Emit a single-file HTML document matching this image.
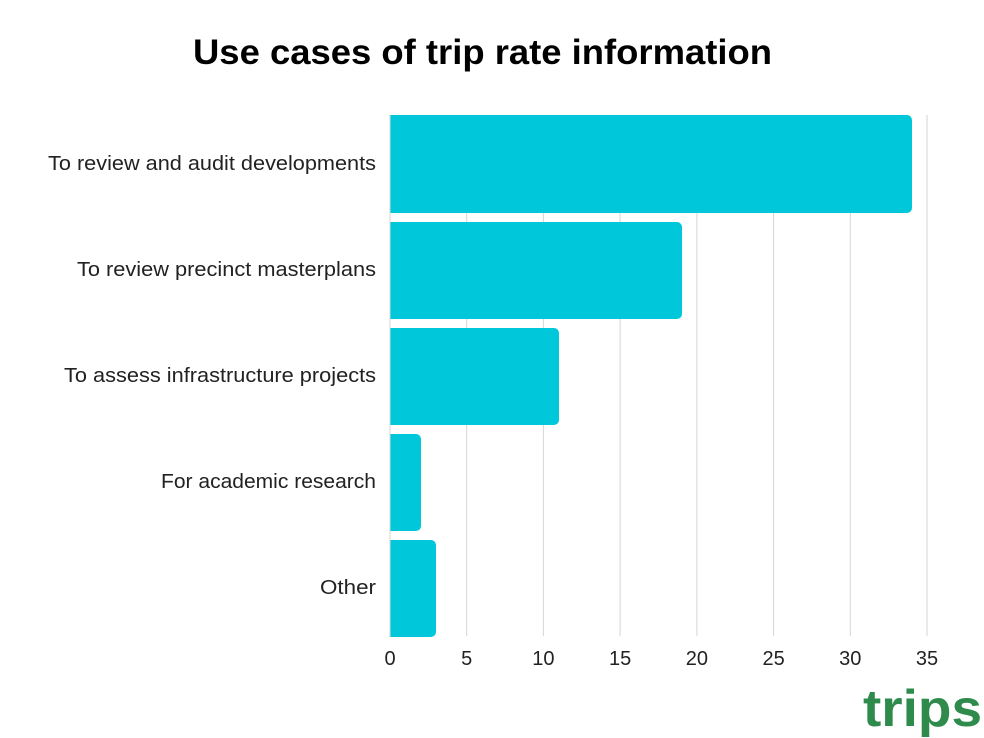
<!DOCTYPE html>
<html><head><style>
html,body{margin:0;padding:0;background:#fff;}
svg{display:block;}
text{font-family:"Liberation Sans",sans-serif;}
</style></head><body>
<svg width="984" height="738" xmlns="http://www.w3.org/2000/svg">
<rect width="984" height="738" fill="#fff"/>
<text x="193" y="64" font-size="35" font-weight="bold" fill="#000" textLength="579" lengthAdjust="spacingAndGlyphs">Use cases of trip rate information</text>
<g stroke="#d6d6d6" stroke-width="1">
<line x1="466.7" y1="115" x2="466.7" y2="636"/>
<line x1="543.4" y1="115" x2="543.4" y2="636"/>
<line x1="620.1" y1="115" x2="620.1" y2="636"/>
<line x1="696.9" y1="115" x2="696.9" y2="636"/>
<line x1="773.6" y1="115" x2="773.6" y2="636"/>
<line x1="850.3" y1="115" x2="850.3" y2="636"/>
<line x1="927" y1="115" x2="927" y2="636"/>
</g>
<g fill="#00C8DA">
<path d="M390 115 H907 a5 5 0 0 1 5 5 V208 a5 5 0 0 1 -5 5 H390Z"/>
<path d="M390 222 H677 a5 5 0 0 1 5 5 V314 a5 5 0 0 1 -5 5 H390Z"/>
<path d="M390 328 H554 a5 5 0 0 1 5 5 V420 a5 5 0 0 1 -5 5 H390Z"/>
<path d="M390 434 H416 a5 5 0 0 1 5 5 V526 a5 5 0 0 1 -5 5 H390Z"/>
<path d="M390 540 H431 a5 5 0 0 1 5 5 V632 a5 5 0 0 1 -5 5 H390Z"/>
</g>
<line x1="390" y1="115" x2="390" y2="637" stroke="#d6d6d6"/>
<g font-size="20" fill="#222" lengthAdjust="spacingAndGlyphs">
<text x="48" y="170" textLength="328" lengthAdjust="spacingAndGlyphs">To review and audit developments</text>
<text x="77" y="276" textLength="299" lengthAdjust="spacingAndGlyphs">To review precinct masterplans</text>
<text x="64" y="382" textLength="312" lengthAdjust="spacingAndGlyphs">To assess infrastructure projects</text>
<text x="161" y="488" textLength="215" lengthAdjust="spacingAndGlyphs">For academic research</text>
<text x="320" y="594" textLength="56" lengthAdjust="spacingAndGlyphs">Other</text>
</g>
<g font-size="20" fill="#222" text-anchor="middle">
<text x="390" y="665">0</text>
<text x="466.7" y="665">5</text>
<text x="543.4" y="665">10</text>
<text x="620.1" y="665">15</text>
<text x="696.9" y="665">20</text>
<text x="773.6" y="665">25</text>
<text x="850.3" y="665">30</text>
<text x="927" y="665">35</text>
</g>
<text x="863" y="726" font-size="52" font-weight="bold" fill="#2E8B4C" textLength="119" lengthAdjust="spacingAndGlyphs">trips</text>
</svg>
</body></html>
